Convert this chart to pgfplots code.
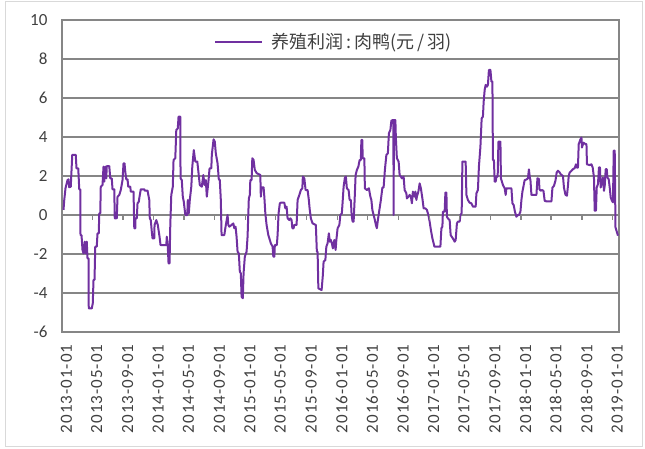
\documentclass[border=0pt]{standalone}
\usepackage{fontspec}
\setmainfont{Carlito}
\newfontfamily\datefont[LetterSpace=6]{Carlito}
\newfontfamily\cjk{Noto Sans CJK SC}
\usepackage{pgfplots}
\pgfplotsset{compat=1.18}
\definecolor{linepurple}{HTML}{7030A0}
\definecolor{gridgray}{HTML}{868686}
\definecolor{txt}{HTML}{404040}
\definecolor{outerframe}{HTML}{D9D9D9}

\pgfplotstableread{
d v
6 0.26
9 0.77
14 1.37
22 1.79
26 1.83
29 1.42
35 1.45
41 3.08
55 3.08
58 2.39
65 2.39
69 1.32
73 1.32
74 -1.03
78 -1.03
82 -1.79
86 -1.97
91 -1.37
95 -1.97
99 -1.37
102 -2.22
106 -2.22
107 -4.79
119 -4.79
123 -4.53
126 -3.33
130 -3.33
133 -1.62
139 -1.62
142 -0.94
147 -0.94
149 0.09
153 0.09
155 1.45
162 1.54
166 2.48
169 1.71
173 2.48
177 1.88
179 2.51
189 2.51
193 1.88
199 1.88
202 1.32
209 1.32
211 -0.17
215 -0.17
217 0.09
219 -0.17
222 0.94
229 1.03
235 1.28
242 1.79
246 2.65
250 2.65
253 2.22
257 1.83
262 1.83
265 1.45
273 1.45
275 1.20
286 1.20
289 -0.68
293 -0.68
294 -0.17
299 -0.17
302 0.60
307 0.68
310 0.94
315 1.32
329 1.32
331 1.25
342 1.25
349 0.77
351 -0.17
355 -0.26
359 -0.85
362 -1.20
369 -1.20
370 -0.51
377 -0.26
383 -0.51
390 -1.11
394 -1.54
417 -1.54
419 -1.11
423 -1.62
426 -2.48
430 -2.48
433 -0.51
437 1.03
443 1.45
446 2.82
453 2.91
457 4.36
463 4.44
466 5.04
473 5.04
474 1.88
479 1.79
483 0.94
487 0.68
493 0
501 0
503 0.77
507 0.09
511 0.77
517 1.45
521 2.48
527 3.33
533 2.74
541 2.74
546 2.14
551 1.54
559 1.45
565 2.05
570 1.54
575 1.79
579 0.94
586 1.79
590 2.39
597 2.39
599 3.08
606 3.88
611 3.76
615 3.16
622 2.65
627 1.83
631 1.79
635 0.77
638 -1.03
649 -1.03
654 -0.60
662 0
665 -0.51
669 -0.60
678 -0.51
685 -0.43
689 -0.68
694 -0.60
698 -1.11
702 -1.88
707 -1.97
711 -2.90
715 -2.99
718 -4.19
723 -4.27
726 -2.99
731 -2.14
738 -1.88
742 -1.11
747 0.85
751 1.03
753 1.79
758 1.79
761 2.91
766 2.82
771 2.31
779 2.14
793 2.05
795 0.94
798 1.42
806 1.42
809 0.94
813 0.09
818 -0.51
825 -1.03
831 -1.28
835 -1.45
842 -1.62
845 -2.14
849 -2.14
851 -1.54
859 -1.54
862 -1.03
866 0.09
871 0.60
875 0.63
889 0.63
893 0.34
898 0.43
902 -0.17
909 -0.26
913 -0.17
918 -0.26
921 -0.68
926 -0.68
929 -0.51
938 -0.51
942 0.77
949 1.03
955 1.28
961 1.37
963 1.97
969 1.88
974 1.28
982 1.28
987 0.77
990 0.34
995 -0.17
1002 -0.43
1015 -0.51
1019 -1.88
1022 -1.88
1025 -3.76
1038 -3.85
1043 -3.08
1046 -2.39
1053 -2.31
1057 -1.62
1062 -1.45
1067 -0.94
1071 -1.37
1075 -1.28
1079 -1.45
1083 -1.71
1089 -1.28
1094 -1.79
1097 -1.28
1102 -0.68
1109 -0.51
1113 0
1119 0.09
1123 0.85
1126 1.45
1131 1.91
1135 1.97
1139 1.37
1146 1.28
1150 0.77
1155 0.77
1158 0
1162 -0.34
1166 -0.34
1170 0.77
1174 2.05
1179 2.31
1185 2.48
1190 2.82
1195 2.82
1197 3.85
1201 3.85
1202 2.91
1209 2.91
1211 1.37
1219 1.28
1227 1.37
1233 0.94
1237 0.77
1241 0.26
1246 0
1251 -0.26
1255 -0.51
1259 -0.68
1263 -0.26
1269 0.26
1275 0.77
1281 1.40
1286 1.42
1291 2.31
1297 3.08
1303 3.16
1307 4.19
1313 4.36
1317 4.84
1323 4.87
1325 4.87
1326 0
1327 4.87
1333 4.87
1335 3.93
1339 2.91
1346 2.74
1350 2.05
1355 1.97
1359 1.88
1366 1.97
1370 1.28
1377 1.11
1379 0.85
1386 0.94
1390 1.03
1395 0.94
1399 0.60
1403 1.20
1409 0.94
1413 1.20
1417 0.77
1419 0.94
1425 1.20
1430 1.62
1435 1.37
1441 0.85
1446 0.34
1453 0.34
1459 0.26
1465 0
1470 -0.34
1475 -0.77
1481 -1.20
1486 -1.45
1489 -1.62
1513 -1.62
1517 -0.68
1521 -0.60
1523 0.17
1530 0.17
1533 1.15
1537 1.15
1539 -0.09
1543 -0.17
1550 -0.26
1554 -1.03
1558 -1.11
1563 -1.20
1570 -1.37
1574 -1.28
1579 -0.43
1583 -0.34
1590 -0.34
1593 0
1598 0.09
1601 2.74
1614 2.74
1617 1.03
1623 0.77
1630 0.63
1637 0.60
1643 0.43
1654 0.43
1657 1.11
1663 1.28
1667 2.48
1673 3.50
1678 4.96
1683 5.04
1686 5.81
1690 6.41
1694 6.67
1699 6.58
1703 6.67
1707 7.44
1713 7.44
1717 6.84
1721 6.84
1723 2.82
1727 2.82
1730 1.71
1734 1.71
1737 1.97
1742 1.97
1745 3.76
1753 3.76
1755 1.88
1763 1.54
1770 1.37
1774 1.03
1777 1.37
1797 1.37
1801 0.60
1806 0.51
1811 0.17
1817 -0.09
1822 0
1827 0
1833 0.17
1837 0.77
1841 1.20
1850 1.79
1857 1.82
1863 1.88
1867 2.34
1870 1.97
1873 1.79
1877 1.03
1897 1.03
1901 1.88
1907 1.85
1909 1.33
1914 1.24
1919 1.28
1925 1.24
1930 0.73
1937 0.70
1957 0.70
1961 1.41
1967 1.49
1973 1.76
1978 2.18
1983 2.27
1990 2.18
1994 2.09
2003 2.00
2007 1.41
2013 1.04
2019 0.99
2023 1.49
2026 2.00
2030 2.18
2037 2.27
2043 2.35
2050 2.40
2055 2.60
2059 2.43
2063 2.43
2066 3.63
2073 3.88
2077 3.97
2079 3.46
2085 3.71
2090 3.66
2097 3.63
2099 2.60
2110 2.56
2117 2.60
2122 2.43
2127 1.92
2130 0.22
2135 0.22
2138 1.41
2143 1.58
2147 2.44
2151 2.44
2154 1.41
2159 1.67
2163 1.92
2167 1.24
2170 1.49
2174 2.35
2178 2.35
2181 1.92
2186 1.83
2190 1.41
2194 0.90
2199 0.73
2203 0.65
2206 3.30
2210 3.30
2213 -0.63
2217 -0.80
2223 -1.06
}\duckdata

\begin{document}
\begin{tikzpicture}[x=1pt,y=1pt]
\useasboundingbox (0,0) rectangle (645,448);
\draw[outerframe, line width=1pt] (5,2) rectangle (642,446);
\begin{axis}[
  at={(62pt,116pt)}, anchor=south west,
  scale only axis, width=557pt, height=312pt,
  xmin=0, xmax=2216, ymin=-6, ymax=10,
  ytick={-6,-4,...,10},
  xtick={0,120,243,365,485,608,730,850,973,1095,1216,1339,1461,1581,1704,1826,1946,2069,2191},
  xticklabels={2013-01-01,2013-05-01,2013-09-01,2014-01-01,2014-05-01,2014-09-01,2015-01-01,2015-05-01,2015-09-01,2016-01-01,2016-05-01,2016-09-01,2017-01-01,2017-05-01,2017-09-01,2018-01-01,2018-05-01,2018-09-01,2019-01-01},
  major tick length=0pt,
  ymajorgrids, grid style={gridgray, line width=1.3pt},
  axis line style={gridgray, line width=1.3pt},
  tick label style={font=\fontsize{17}{20}\selectfont, text=txt},
  /pgf/number format/assume math mode=true,
  xticklabel style={xshift=4.5pt, rotate=90, anchor=east, font=\datefont\fontsize{17}{20}\selectfont},
  xticklabel shift=9pt,
  yticklabel shift=11pt,
  legend style={at={(0.488,0.93)}, anchor=center, draw=none, fill=none,
    font=\cjk\fontsize{18}{21}\selectfont, text=txt},
  legend image code/.code={\draw[#1] (0pt,0pt) -- (47pt,0pt);},
  x filter/.expression={0.995*x},
]
\addplot[linepurple, line width=2pt, line join=round] table[x=d, y=v] {\duckdata};
\addlegendentry{\hspace{6pt}养殖利润\,:\,肉鸭(元\,/\,羽)}
\pgfplotsinvokeforeach{0,120,243,365,485,608,730,850,973,1095,1216,1339,1461,1581,1704,1826,1946,2069,2191}{
  \draw[gridgray, line width=1.3pt] (axis cs:#1,0) -- ([yshift=-5pt]axis cs:#1,0);
}
\end{axis}
\end{tikzpicture}
\end{document}
